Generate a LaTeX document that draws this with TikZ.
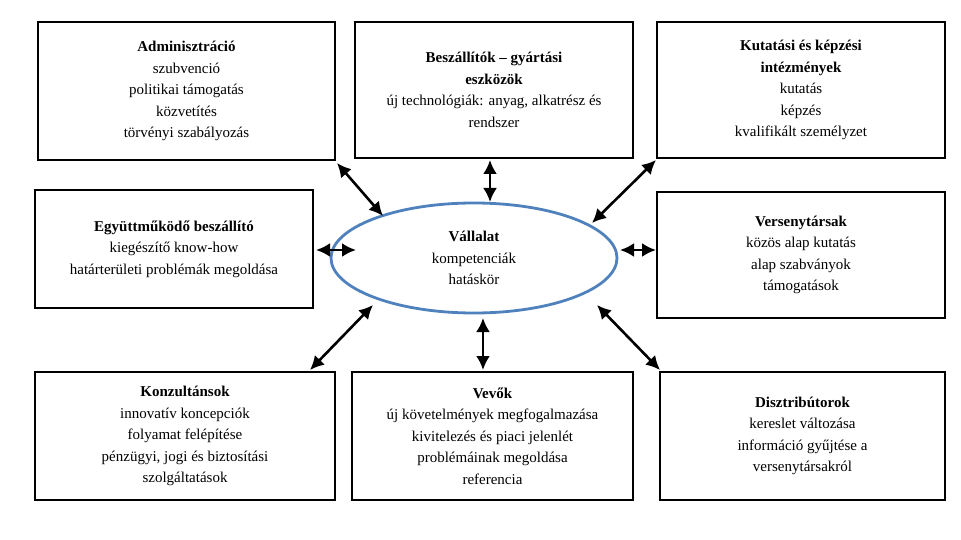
\documentclass[tikz,border=0pt]{standalone}
\usepackage{fontspec}
\setmainfont{Liberation Serif}
\usetikzlibrary{arrows.meta,shapes.geometric}

\definecolor{ellkek}{RGB}{79,129,189}
\tikzset{
  doboz/.style={draw, line width=2.2pt, align=center, inner sep=2pt,
    font=\fontsize{15}{21.5}\selectfont},
  nyil/.style={{Latex[length=14pt,width=14pt]}-{Latex[length=14pt,width=14pt]}, line width=2.6pt}
}

\begin{document}
\begin{tikzpicture}[x=1pt, y=-1pt]
        \useasboundingbox (0,0) rectangle (961,540);
        % dobozok
        \node[doboz, minimum width=297pt, minimum height=138pt] (adm) at (186.5,91)
          {\textbf{Adminisztráció}\\szubvenció\\politikai támogatás\\közvetítés\\törvényi szabályozás};
        \node[doboz, minimum width=278pt, minimum height=136pt] (besz) at (494,90)
          {\textbf{Beszállítók -- gyártási}\\\textbf{eszközök}\\új technológiák: anyag, alkatrész és\\rendszer};
        \node[doboz, minimum width=288pt, minimum height=136pt] (kut) at (801,90)
          {\textbf{Kutatási és képzési}\\\textbf{intézmények}\\kutatás\\képzés\\kvalifikált személyzet};
        \node[doboz, minimum width=278pt, minimum height=118pt] (egy) at (174,249)
          {\textbf{Együttműködő beszállító}\\kiegészítő know-how\\határterületi problémák megoldása};
        \node[doboz, minimum width=288pt, minimum height=126pt] (ver) at (801,255)
          {\textbf{Versenytársak}\\közös alap kutatás\\alap szabványok\\támogatások};
        \node[doboz, minimum width=300pt, minimum height=128pt] (kon) at (185,436)
          {\textbf{Konzultánsok}\\innovatív koncepciók\\folyamat felépítése\\pénzügyi, jogi és biztosítási\\szolgáltatások};
        \node[doboz, minimum width=281pt, minimum height=128pt] (vev) at (492.5,436)
          {\textbf{Vevők}\\új követelmények megfogalmazása\\kivitelezés és piaci jelenlét\\problémáinak megoldása\\referencia};
        \node[doboz, minimum width=285pt, minimum height=128pt] (dis) at (802.5,436)
          {\textbf{Disztribútorok}\\kereslet változása\\információ gyűjtése a\\versenytársakról};
        % ellipszis
        \node[ellipse, draw=ellkek, line width=2.8pt, minimum width=286pt,
          minimum height=110pt, align=center, font=\fontsize{15}{21.5}\selectfont] (val) at (474,258)
          {\textbf{Vállalat}\\kompetenciák\\hatáskör};
        % nyilak
        \coordinate (a1) at (337,163); \coordinate (a2) at (383,216);
        \coordinate (b1) at (490,160); \coordinate (b2) at (490,202);
        \coordinate (c1) at (656,160); \coordinate (c2) at (592,223);
        \coordinate (d1) at (316,250); \coordinate (d2) at (356,250);
        \coordinate (e1) at (620,250); \coordinate (e2) at (656,250);
        \coordinate (f1) at (373,305); \coordinate (f2) at (310,370);
        \coordinate (g1) at (483,318); \coordinate (g2) at (483,370);
        \coordinate (h1) at (597,305); \coordinate (h2) at (660,370);
        \foreach \p in {a,b,c,d,e,f,g,h}
          \draw[nyil] (\p1) -- (\p2);
\end{tikzpicture}
\end{document}
